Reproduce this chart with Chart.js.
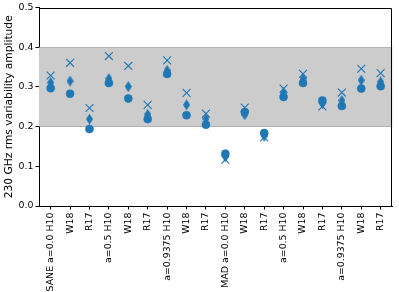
<!DOCTYPE html>
<html>
<head>
<meta charset="utf-8">
<script src="https://cdn.jsdelivr.net/npm/chart.js@4/dist/chart.umd.min.js"></script>
<style>
  html, body { margin: 0; padding: 0; background: #fff; }
  #wrap { width: 399px; height: 292px; }
</style>
</head>
<body>
<div id="wrap"><canvas id="ampChart" width="399" height="292"></canvas></div>
<script>
// Categories (tick labels along x)
const labels = [
    'SANE a=0.0 H10', 'W18', 'R17',
    'a=0.5 H10', 'W18', 'R17',
    'a=0.9375 H10', 'W18', 'R17',
    'MAD a=0.0 H10', 'W18', 'R17',
    'a=0.5 H10', 'W18', 'R17',
    'a=0.9375 H10', 'W18', 'R17'
];

// Series values
const circleVals  = [0.297, 0.283, 0.194, 0.310, 0.271, 0.219, 0.333, 0.229, 0.205,
                     0.132, 0.237, 0.184, 0.275, 0.310, 0.266, 0.252, 0.296, 0.302];
const diamondVals = [0.311, 0.315, 0.219, 0.321, 0.301, 0.231, 0.342, 0.255, 0.220,
                     0.124, 0.230, 0.176, 0.285, 0.321, 0.258, 0.266, 0.317, 0.313];
const crossVals   = [0.329, 0.361, 0.247, 0.378, 0.353, 0.255, 0.367, 0.285, 0.233,
                     0.117, 0.248, 0.173, 0.296, 0.333, 0.251, 0.286, 0.346, 0.335];

// Shaded band and y ticks
const bandLow = 0.2;
const bandHigh = 0.4;
const yTicks = [0.0, 0.1, 0.2, 0.3, 0.4, 0.5];

const BLUE = '#1f77b4';

/**
 * Thin diamond marker (matplotlib 'd') drawn on a small canvas
 */
function makeThinDiamond() {
    const c = document.createElement('canvas');
    c.width = 7;
    c.height = 11;
    const g = c.getContext('2d');
    g.fillStyle = BLUE;
    g.beginPath();
    g.moveTo(3.5, 0);
    g.lineTo(7, 5.5);
    g.lineTo(3.5, 11);
    g.lineTo(0, 5.5);
    g.closePath();
    g.fill();
    return c;
}

function toPoints(vals) {
    return vals.map((v, i) => ({ x: i, y: v }));
}

// Grey band between bandLow and bandHigh
const bandPlugin = {
    id: 'band',
    beforeDatasetsDraw(chart) {
        const { ctx, chartArea } = chart;
        const y = chart.scales.y;
        const top = y.getPixelForValue(bandHigh);
        const bot = y.getPixelForValue(bandLow);
        ctx.save();
        ctx.fillStyle = '#cccccc';
        ctx.fillRect(chartArea.left, top, chartArea.right - chartArea.left, bot - top);
        ctx.strokeStyle = 'rgba(128,128,128,0.45)';
        ctx.lineWidth = 1;
        ctx.beginPath();
        ctx.moveTo(chartArea.left, Math.round(top) + 0.5);
        ctx.lineTo(chartArea.right, Math.round(top) + 0.5);
        ctx.moveTo(chartArea.left, Math.round(bot) - 0.5);
        ctx.lineTo(chartArea.right, Math.round(bot) - 0.5);
        ctx.stroke();
        ctx.restore();
    }
};

// Top and right spines
const framePlugin = {
    id: 'frame',
    afterDraw(chart) {
        const { ctx, chartArea } = chart;
        ctx.save();
        ctx.strokeStyle = '#000';
        ctx.lineWidth = 1;
        ctx.beginPath();
        ctx.moveTo(Math.round(chartArea.left) + 0.5, Math.round(chartArea.top) + 0.5);
        ctx.lineTo(Math.round(chartArea.right) - 0.5, Math.round(chartArea.top) + 0.5);
        ctx.lineTo(Math.round(chartArea.right) - 0.5, Math.round(chartArea.bottom) + 0.5);
        ctx.stroke();
        ctx.restore();
    }
};

const ctx = document.getElementById('ampChart').getContext('2d');

new Chart(ctx, {
    type: 'scatter',
    data: {
        datasets: [
            {
                label: 'circle',
                data: toPoints(circleVals),
                pointStyle: 'circle',
                pointRadius: 4,
                pointBorderWidth: 0.6,
                backgroundColor: BLUE,
                borderColor: BLUE
            },
            {
                label: 'diamond',
                data: toPoints(diamondVals),
                pointStyle: makeThinDiamond(),
                backgroundColor: BLUE,
                borderColor: BLUE
            },
            {
                label: 'cross',
                data: toPoints(crossVals),
                pointStyle: 'crossRot',
                pointRadius: 5.6,
                pointBorderWidth: 1.1,
                backgroundColor: BLUE,
                borderColor: BLUE
            }
        ]
    },
    options: {
        responsive: false,
        animation: false,
        layout: { padding: { top: 7, right: 4, left: 0, bottom: 0 } },
        plugins: {
            legend: { display: false },
            tooltip: { enabled: false }
        },
        scales: {
            x: {
                type: 'linear',
                min: -0.6,
                max: labels.length - 0.4,
                afterBuildTicks(scale) {
                    scale.ticks = labels.map((_, i) => ({ value: i }));
                },
                afterFit(scale) { scale.height = 86; },
                grid: {
                    drawOnChartArea: false,
                    drawTicks: true,
                    tickLength: 3.5,
                    color: '#000'
                },
                border: { display: true, color: '#000', width: 1 },
                ticks: {
                    autoSkip: false,
                    minRotation: 90,
                    maxRotation: 90,
                    padding: 3,
                    color: '#000',
                    font: { family: 'DejaVu Sans', size: 9.4 },
                    callback: (v) => labels[v]
                }
            },
            y: {
                min: 0,
                max: 0.5,
                afterBuildTicks(scale) {
                    scale.ticks = yTicks.map(v => ({ value: v }));
                },
                afterFit(scale) { scale.width = 39; },
                grid: {
                    drawOnChartArea: false,
                    drawTicks: true,
                    tickLength: 3.5,
                    color: '#000'
                },
                border: { display: true, color: '#000', width: 1 },
                ticks: {
                    padding: 2,
                    color: '#000',
                    font: { family: 'DejaVu Sans', size: 9.4 },
                    callback: (v) => v.toFixed(1)
                },
                title: {
                    display: true,
                    text: '230 GHz rms variability amplitude',
                    color: '#000',
                    padding: { top: 3, bottom: 0 },
                    font: { family: 'DejaVu Sans', size: 10.7 }
                }
            }
        }
    },
    plugins: [bandPlugin, framePlugin]
});
</script>
</body>
</html>
